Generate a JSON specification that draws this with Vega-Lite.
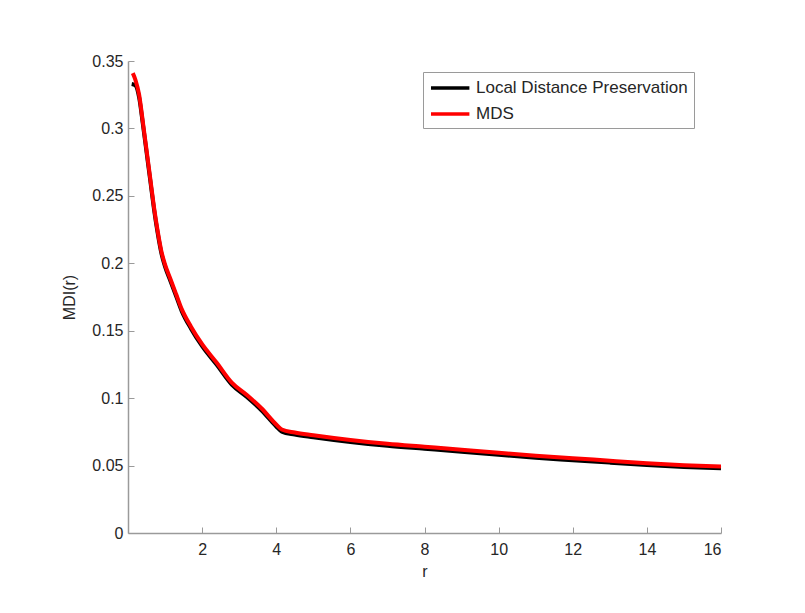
{
  "$schema": "https://vega.github.io/schema/vega-lite/v6.json",
  "autosize": "none",
  "width": 593,
  "height": 472,
  "padding": {"left": 128, "top": 61, "right": 84, "bottom": 80},
  "background": "white",
  "config": {
    "view": {"stroke": null},
    "font": "Liberation Sans",
    "axis": {
      "domainColor": "#9a9a9a",
      "tickColor": "#9a9a9a",
      "grid": false,
      "labelColor": "#262626",
      "titleColor": "#262626",
      "labelFontSize": 16,
      "titleFontSize": 16,
      "titleFontWeight": "normal",
      "tickSize": -6,
      "domainWidth": 1.5
    }
  },
  "data": {
    "values": [
      {"series": "Local Distance Preservation", "r": 0.1, "v": 0.333},
      {"series": "Local Distance Preservation", "r": 0.2, "v": 0.332},
      {"series": "Local Distance Preservation", "r": 0.3, "v": 0.323},
      {"series": "Local Distance Preservation", "r": 0.4, "v": 0.3035},
      {"series": "Local Distance Preservation", "r": 0.5, "v": 0.2825},
      {"series": "Local Distance Preservation", "r": 0.6, "v": 0.2615},
      {"series": "Local Distance Preservation", "r": 0.7, "v": 0.2405},
      {"series": "Local Distance Preservation", "r": 0.8, "v": 0.2225},
      {"series": "Local Distance Preservation", "r": 0.9, "v": 0.2075},
      {"series": "Local Distance Preservation", "r": 1.0, "v": 0.1975},
      {"series": "Local Distance Preservation", "r": 1.15, "v": 0.1865},
      {"series": "Local Distance Preservation", "r": 1.3, "v": 0.1755},
      {"series": "Local Distance Preservation", "r": 1.45, "v": 0.1645},
      {"series": "Local Distance Preservation", "r": 1.7, "v": 0.1515},
      {"series": "Local Distance Preservation", "r": 2.0, "v": 0.1385},
      {"series": "Local Distance Preservation", "r": 2.4, "v": 0.1245},
      {"series": "Local Distance Preservation", "r": 2.8, "v": 0.11},
      {"series": "Local Distance Preservation", "r": 3.2, "v": 0.101},
      {"series": "Local Distance Preservation", "r": 3.6, "v": 0.091},
      {"series": "Local Distance Preservation", "r": 4.0, "v": 0.079},
      {"series": "Local Distance Preservation", "r": 4.15, "v": 0.0752},
      {"series": "Local Distance Preservation", "r": 4.5, "v": 0.073},
      {"series": "Local Distance Preservation", "r": 5.0, "v": 0.071},
      {"series": "Local Distance Preservation", "r": 6.0, "v": 0.0675},
      {"series": "Local Distance Preservation", "r": 7.0, "v": 0.0647},
      {"series": "Local Distance Preservation", "r": 8.0, "v": 0.0625},
      {"series": "Local Distance Preservation", "r": 9.0, "v": 0.0603},
      {"series": "Local Distance Preservation", "r": 10.0, "v": 0.058},
      {"series": "Local Distance Preservation", "r": 11.0, "v": 0.0558},
      {"series": "Local Distance Preservation", "r": 12.0, "v": 0.054},
      {"series": "Local Distance Preservation", "r": 13.0, "v": 0.0522},
      {"series": "Local Distance Preservation", "r": 14.0, "v": 0.0505},
      {"series": "Local Distance Preservation", "r": 15.0, "v": 0.049},
      {"series": "Local Distance Preservation", "r": 16.0, "v": 0.048},
      {"series": "MDS", "r": 0.13, "v": 0.341},
      {"series": "MDS", "r": 0.2, "v": 0.336},
      {"series": "MDS", "r": 0.3, "v": 0.325},
      {"series": "MDS", "r": 0.4, "v": 0.305},
      {"series": "MDS", "r": 0.5, "v": 0.284},
      {"series": "MDS", "r": 0.6, "v": 0.263},
      {"series": "MDS", "r": 0.7, "v": 0.242},
      {"series": "MDS", "r": 0.8, "v": 0.224},
      {"series": "MDS", "r": 0.9, "v": 0.209},
      {"series": "MDS", "r": 1.0, "v": 0.199},
      {"series": "MDS", "r": 1.15, "v": 0.188},
      {"series": "MDS", "r": 1.3, "v": 0.177},
      {"series": "MDS", "r": 1.45, "v": 0.166},
      {"series": "MDS", "r": 1.7, "v": 0.153},
      {"series": "MDS", "r": 2.0, "v": 0.14},
      {"series": "MDS", "r": 2.4, "v": 0.126},
      {"series": "MDS", "r": 2.8, "v": 0.1115},
      {"series": "MDS", "r": 3.2, "v": 0.1025},
      {"series": "MDS", "r": 3.6, "v": 0.0925},
      {"series": "MDS", "r": 4.0, "v": 0.0805},
      {"series": "MDS", "r": 4.15, "v": 0.0768},
      {"series": "MDS", "r": 4.5, "v": 0.0745},
      {"series": "MDS", "r": 5.0, "v": 0.0725},
      {"series": "MDS", "r": 6.0, "v": 0.069},
      {"series": "MDS", "r": 7.0, "v": 0.0662},
      {"series": "MDS", "r": 8.0, "v": 0.064},
      {"series": "MDS", "r": 9.0, "v": 0.0618},
      {"series": "MDS", "r": 10.0, "v": 0.0595},
      {"series": "MDS", "r": 11.0, "v": 0.0573},
      {"series": "MDS", "r": 12.0, "v": 0.0555},
      {"series": "MDS", "r": 13.0, "v": 0.0536},
      {"series": "MDS", "r": 14.0, "v": 0.0518},
      {"series": "MDS", "r": 15.0, "v": 0.0503},
      {"series": "MDS", "r": 16.0, "v": 0.0493}
    ]
  },
  "mark": {"type": "line", "strokeWidth": 4, "interpolate": "monotone"},
  "encoding": {
    "x": {
      "field": "r", "type": "quantitative",
      "scale": {"domain": [0, 16], "nice": false, "zero": false},
      "axis": {"values": [2, 4, 6, 8, 10, 12, 14, 16], "title": "r", "titlePadding": 6, "labelPadding": 14}
    },
    "y": {
      "field": "v", "type": "quantitative",
      "scale": {"domain": [0, 0.35], "nice": false},
      "axis": {"values": [0, 0.05, 0.1, 0.15, 0.2, 0.25, 0.3, 0.35], "format": "~g", "title": "MDI(r)", "titlePadding": 14, "labelPadding": 11}
    },
    "color": {
      "field": "series", "type": "nominal",
      "scale": {"domain": ["Local Distance Preservation", "MDS"], "range": ["#000000", "#ff0000"]},
      "legend": {
        "title": null,
        "orient": "none",
        "legendX": 295,
        "legendY": 11,
        "symbolType": "M-1,0H3.8",
        "symbolStrokeWidth": 3.5,
        "symbolSize": 256,
        "labelFontSize": 17,
        "labelLimit": 0,
        "labelColor": "#262626",
        "strokeColor": "#9a9a9a",
        "fillColor": "white",
        "padding": 6,
        "rowPadding": 8,
        "labelOffset": 27
      }
    },
    "order": {"field": "series"}
  }
}
